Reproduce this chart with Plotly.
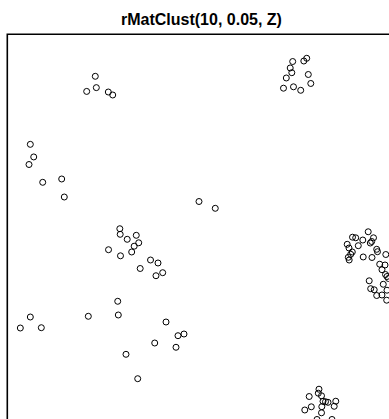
import plotly.graph_objects as go

# Point pattern in window units (unit-square window, y upward)
x_pts = [
    0.2095, 0.189, 0.212, 0.2405, 0.251,
    0.0548, 0.0629, 0.0517, 0.0843, 0.1295, 0.1357,
    0.4564, 0.4952,
    0.6795, 0.706, 0.7129, 0.6736, 0.6774, 0.6643, 0.7167, 0.7226, 0.6576, 0.6814, 0.6986,
    0.2679, 0.2688, 0.3071, 0.2855, 0.3129, 0.3021, 0.241, 0.2962, 0.2695, 0.341, 0.3588, 0.3164, 0.37, 0.354,
    0.2629, 0.0548, 0.1929, 0.2643, 0.031, 0.081, 0.3779, 0.4064, 0.4207, 0.351, 0.4017, 0.2826, 0.3105,
    0.8593, 0.8219, 0.8295, 0.8464, 0.8719, 0.8676, 0.8643, 0.8093, 0.8357, 0.8136, 0.8795, 0.8814,
    0.8214, 0.8176, 0.8119, 0.8474, 0.8683, 0.814, 0.9012, 0.8867, 0.8993, 0.8921, 0.9005, 0.904,
    0.9076, 0.8617, 0.8952, 0.8652, 0.8736, 0.904, 0.8795, 0.8921, 0.9033,
    0.7421, 0.7405, 0.7188, 0.7481, 0.7517, 0.7576, 0.7636, 0.7821, 0.7238, 0.7488, 0.7783, 0.7083,
    0.7481, 0.7374, 0.7731,
]
y_pts = [
    0.900, 0.864, 0.873, 0.8626, 0.8555,
    0.738, 0.708, 0.690, 0.6476, 0.6555, 0.6126,
    0.6019, 0.5857,
    0.9352, 0.9364, 0.9429, 0.9198, 0.9086, 0.896, 0.9043, 0.8829, 0.8717, 0.875, 0.8667,
    0.5371, 0.5238, 0.5214, 0.5119, 0.5036, 0.4955, 0.4871, 0.4817, 0.4726, 0.4626, 0.4555, 0.4424, 0.4324, 0.4252,
    0.3643, 0.3269, 0.3286, 0.3317, 0.3007, 0.3014, 0.315, 0.2824, 0.2864, 0.265, 0.2548, 0.2381, 0.18,
    0.5298, 0.5169, 0.5155, 0.5102, 0.5155, 0.5067, 0.5031, 0.5, 0.4967, 0.4912, 0.4881, 0.4824,
    0.4817, 0.4762, 0.469, 0.4698, 0.4686, 0.4626, 0.4757, 0.4526, 0.4507, 0.4395, 0.4281, 0.4233,
    0.4186, 0.4131, 0.4048, 0.3943, 0.3917, 0.3907, 0.3781, 0.3793, 0.3669,
    0.155, 0.1455, 0.1376, 0.1393, 0.1262, 0.1252, 0.1238, 0.1264, 0.1131, 0.1133, 0.1143, 0.1055,
    0.0988, 0.0829, 0.0829,
]
title_text = "rMatClust(10, 0.05, Z)"
window = [0.0, 1.0]

fig = go.Figure()
fig.add_trace(go.Scatter(
    x=x_pts, y=y_pts, mode="markers",
    marker=dict(symbol="circle-open", size=6, color="black",
                line=dict(color="black", width=1)),
    hoverinfo="skip", showlegend=False,
))

# window border (only left and top edges visible in the cropped view)
fig.add_shape(type="rect", xref="x", yref="y",
              x0=window[0], x1=window[1], y0=window[0], y1=window[1],
              line=dict(color="black", width=1.6), fillcolor="rgba(0,0,0,0)", layer="below")

fig.add_annotation(text="<b>" + title_text + "</b>", xref="paper", yref="paper",
                   x=201.7 / 389, y=1 - 20 / 419, xanchor="center", yanchor="middle",
                   showarrow=False,
                   font=dict(family="Liberation Sans, Arial, sans-serif", size=16, color="black"))

fig.update_layout(
    width=389, height=419,
    margin=dict(l=0, r=0, t=0, b=0),
    plot_bgcolor="white", paper_bgcolor="white",
    xaxis=dict(range=[-7.3 / 420, 381.7 / 420], visible=False, fixedrange=True),
    yaxis=dict(range=[35.3 / 420, 454.3 / 420], visible=False, fixedrange=True),
)

fig.write_html("out.html", config={"displayModeBar": False})

# remove the default page margin so the figure sits at the window origin
with open("out.html", "r", encoding="utf-8") as f:
    html = f.read()
html = html.replace("<head>", "<head><style>html,body{margin:0;padding:0;overflow:hidden;}</style>", 1)
with open("out.html", "w", encoding="utf-8") as f:
    f.write(html)
